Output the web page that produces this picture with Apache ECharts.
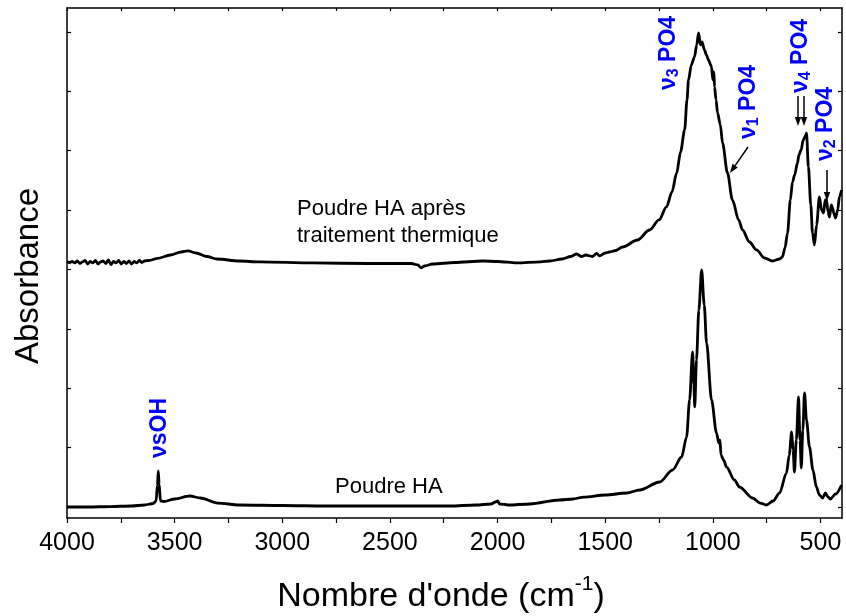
<!DOCTYPE html>
<html><head><meta charset="utf-8">
<script src="https://cdn.jsdelivr.net/npm/echarts@6/dist/echarts.min.js"></script>
<style>html,body{margin:0;padding:0;background:#fff}#c{width:846px;height:616px}</style>
</head><body><div id="c"></div>
<script>
// Poudre HA (bottom spectrum): wavenumber (cm-1) and absorbance read as pixel rows
const haWn  = [4000,3900,3800,3700,3640,3600,3586,3580,3576,3572,3566,3550,3500,3430,3380,3300,3200,3000,2800,2500,2222,2100,2030,2010,2000,1990,1950,1850,1712,1650,1600,1500,1400,1340,1247,1187,1145,1122,1108,1094,1088,1084,1076,1065,1052,1040,1029,1006,983,972,967,962,950,936,900,876,816,780,751,720,690,658,645,634,627,621,612,602,595,589,582,574,565,551,535,519,505,490,477,465,454,430,402];
const haPy  = [507,507,506.5,506,505,503.5,501,485,471,484,501,501.5,499,496,498,503,505,505.5,506,506,506,505,504,502,501,504,505,504,500,499,497,495,493,490,482,470,457,437,400,352,385,407,360,310,270,305,343,400,433,443,440,455,460,467,480,487,498,503,505,501,493,473,455,432,450,472,440,397,440,468,430,393,420,447,470,487,495,498,493,497,499,494,485];
// Poudre HA après traitement thermique (top spectrum)
const htWn  = [4000,3988,3976,3964,3952,3940,3928,3916,3904,3892,3880,3868,3856,3844,3832,3820,3808,3796,3784,3772,3760,3748,3736,3724,3712,3700,3688,3676,3664,3652,3640,3620,3580,3520,3470,3438,3400,3350,3304,3200,3104,2858,2600,2400,2370,2355,2340,2301,2200,2069,2000,1911,1800,1758,1700,1660,1633,1610,1590,1560,1540,1526,1500,1480,1450,1419,1350,1294,1250,1215,1190,1168,1150,1131,1120,1113,1100,1085,1075,1066,1058,1050,1039,1030,1020,1010,1006,1000,995,992,985,978,965,955,932,909,880,862,830,797,760,723,690,677,665,653,640,630,620,607,600,590,580,570,565,556,545,537,528,518,505,495,486,478,472,465,458,450,444,437,430,420,412,402];
const htPy  = [262,262.5,261.5,263,261,263.5,262,260.5,264,261.5,263,260.5,264,262,261,263.5,260,264.5,261.5,263,260.5,264,261.5,263.5,261,264,261.5,263,260.5,262.5,261,260.5,258.5,255,252,251,253,256.5,259,261,262,263,263.5,263.5,265,268,266,264,262.5,261,261.5,263,262,261,259,256.5,254,256.5,255,256.5,253.5,256,253,252,250.5,247,240,230,220,207,192,173,152,130,100,80,65,57,45,33,45,42,50,55,60,65,67,80,72,87,100,113,125,143,173,200,220,230,242,250,258,261,259,257,248,233,200,182,175,163,155,150,140,136,133,167,205,233,245,225,197,210,213,200,200,212,217,205,208,214,218,210,197,190];
// pixel-read values -> absorbance units (0.1 per y tick)
const toAbs = p => +((507 - p) / 594).toFixed(4);
const haAbs = haPy.map(toAbs);
const htAbs = htPy.map(toAbs);

const xTickValues  = [4000,3750,3500,3250,3000,2750,2500,2250,2000,1750,1500,1250,1000,750,500];
const xLabelValues = [4000,3500,3000,2500,2000,1500,1000,500];
const yTickValues  = [0,0.1,0.2,0.3,0.4,0.5,0.6,0.7,0.8];

const FONT = '"Liberation Sans", Arial, sans-serif';
const BLUE = '#0000ff';
const cv = document.createElement('canvas').getContext('2d');
function tw(t, s, b) { cv.font = (b ? 'bold ' : '') + s + 'px "Liberation Sans"'; return cv.measureText(t).width; }

function vlabel(cx, y0, parts) {
  const children = []; let off = 0;
  parts.forEach(p => {
    children.push({type:'text', x: off, y: p.dy || 0, style:{text:p.t, fontSize:p.s, fontWeight:'bold', fontFamily:FONT, fill:BLUE, align:'left', verticalAlign:'middle'}});
    off += tw(p.t, p.s, true);
  });
  return {type:'group', x: cx, y: y0, rotation: Math.PI/2, children};
}
function arrow(x1, y1, x2, y2) {
  const dx = x2 - x1, dy = y2 - y1, L = Math.hypot(dx, dy), ux = dx / L, uy = dy / L;
  const hl = 9, hw = 3.2, bx = x2 - ux * hl, by = y2 - uy * hl;
  return [
    {type:'line', shape:{x1, y1, x2: bx, y2: by}, style:{stroke:'#000', lineWidth:1.5}},
    {type:'polygon', shape:{points:[[x2,y2],[bx - uy*hw, by + ux*hw],[bx + uy*hw, by - ux*hw]]}, style:{fill:'#000'}}
  ];
}
function hTitle(cx, cy, parts) {
  let total = 0; parts.forEach(p => total += tw(p.t, p.s, false));
  let off = cx - total / 2; const children = [];
  parts.forEach(p => {
    children.push({type:'text', x: off, y: cy + (p.dy || 0), style:{text:p.t, fontSize:p.s, fontFamily:FONT, fill:'#000', align:'left', verticalAlign:'middle'}});
    off += tw(p.t, p.s, false);
  });
  return children;
}

const chart = echarts.init(document.getElementById('c'), null, {renderer:'canvas'});
const axisLine = {show:true, onZero:false, lineStyle:{color:'#000', width:1.5}};
const graphics = [].concat(
  [vlabel(669, 90, [{t:'ν', s:23}, {t:'3', s:16, dy:5}, {t:' PO4', s:23}])],
  [vlabel(749, 139, [{t:'ν', s:23}, {t:'1', s:16, dy:5}, {t:' PO4', s:23}])],
  [vlabel(801, 93, [{t:'ν', s:23}, {t:'4', s:16, dy:5}, {t:' PO4', s:23}])],
  [vlabel(826, 161, [{t:'ν', s:23}, {t:'2', s:16, dy:5}, {t:' PO4', s:23}])],
  [vlabel(160, 458, [{t:'νsOH', s:23}])],
  arrow(748, 147, 730, 173),
  arrow(798, 96, 798, 126),
  arrow(804, 96, 804, 126),
  arrow(827, 170, 827, 201),
  [{type:'text', x:297, y:209, style:{text:'Poudre HA après', fontSize:22, fontFamily:FONT, fill:'#000', verticalAlign:'middle'}}],
  [{type:'text', x:297, y:236, style:{text:'traitement thermique', fontSize:22, fontFamily:FONT, fill:'#000', verticalAlign:'middle'}}],
  [{type:'text', x:335, y:487, style:{text:'Poudre HA', fontSize:22, fontFamily:FONT, fill:'#000', verticalAlign:'middle'}}],
  [{type:'group', x:29, y:276, rotation:Math.PI/2, children:[{type:'text', x:0, y:0, style:{text:'Absorbance', fontSize:33, fontFamily:FONT, fill:'#000', align:'center', verticalAlign:'middle'}}]}],
  hTitle(441, 597, [{t:"Nombre d'onde (cm", s:34}, {t:'-1', s:21, dy:-13}, {t:')', s:34}])
);

chart.setOption({
  animation:false,
  backgroundColor:'#fff',
  grid:{left:67, right:4, top:8, bottom:98, containLabel:false, outerBoundsMode:'none'},
  xAxis:[
    {type:'value', position:'bottom', inverse:true, min:400, max:4000, interval:500,
     axisLine, splitLine:{show:false},
     axisTick:{show:true, inside:false, length:5, lineStyle:{color:'#000', width:1.2}, customValues:xTickValues},
     axisLabel:{show:true, fontSize:25, color:'#000', fontFamily:FONT, margin:13, customValues:xLabelValues, formatter: v => String(v)}},
    {type:'value', position:'top', inverse:true, min:400, max:4000, interval:500,
     axisLine, splitLine:{show:false},
     axisTick:{show:true, inside:true, length:3, lineStyle:{color:'#000', width:1.2}, customValues:xTickValues},
     axisLabel:{show:false}}
  ],
  yAxis:[
    {type:'value', position:'left', min:-0.0185, max:0.84, axisLine, splitLine:{show:false},
     axisTick:{show:true, inside:true, length:4, lineStyle:{color:'#000', width:1.2}, customValues:yTickValues},
     axisLabel:{show:false}},
    {type:'value', position:'right', min:-0.0185, max:0.84, axisLine, splitLine:{show:false},
     axisTick:{show:true, inside:true, length:4, lineStyle:{color:'#000', width:1.2}, customValues:yTickValues},
     axisLabel:{show:false}}
  ],
  series:[
    {type:'line', name:'Poudre HA', xAxisIndex:0, yAxisIndex:0, showSymbol:false, smooth:0.3, smoothMonotone:'x',
     lineStyle:{color:'#000', width:2.8}, data: haWn.map((w,i) => [w, haAbs[i]])},
    {type:'line', name:'Poudre HA après traitement thermique', xAxisIndex:0, yAxisIndex:0, showSymbol:false, smooth:0.3, smoothMonotone:'x',
     lineStyle:{color:'#000', width:2.8}, data: htWn.map((w,i) => [w, htAbs[i]])}
  ],
  graphic: graphics
});
</script></body></html>
